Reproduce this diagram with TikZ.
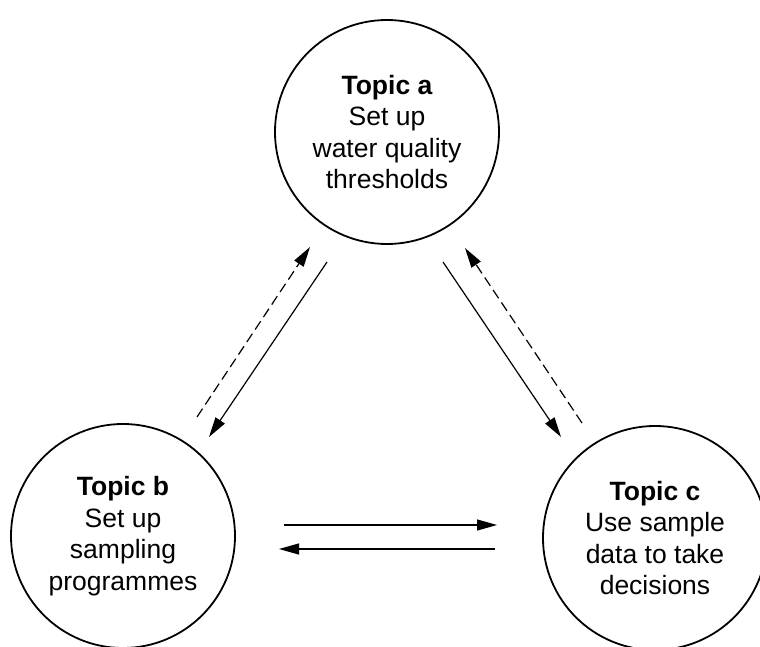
\documentclass[tikz,border=0pt]{standalone}
\usepackage{fontspec}
\setmainfont{Liberation Sans}
\usetikzlibrary{arrows.meta}
\begin{document}
\begin{tikzpicture}[x=1pt,y=1pt,
  topic/.style={circle,draw,line width=1.8pt,minimum size=224pt,inner sep=0pt,align=center,
    font=\fontsize{26.5}{31.5}\selectfont},
  link/.style={line width=1.2pt,-{Triangle[length=20pt,width=11pt]}},
  dlink/.style={link,dash pattern=on 10pt off 5pt}]
\useasboundingbox (0,0) rectangle (760,646);
\node[topic] (a) at (387,514) {\textbf{Topic a}\\Set up\\water quality\\thresholds};
\node[topic] (b) at (123,110) {\textbf{Topic b}\\Set up\\sampling\\programmes};
\node[topic] (c) at (655,108) {\textbf{Topic c}\\Use sample\\data to take\\decisions};
% endpoints of connectors
\coordinate (dL1) at (197,229); \coordinate (dL2) at (310,399);
\coordinate (sL1) at (327,384); \coordinate (sL2) at (209,209);
\coordinate (sR1) at (443,384); \coordinate (sR2) at (561,209);
\coordinate (dR1) at (582,223); \coordinate (dR2) at (465,398);
\coordinate (hT1) at (284,121); \coordinate (hT2) at (497,121);
\coordinate (hB1) at (495,97);  \coordinate (hB2) at (279,97);
\draw[dlink] (dL1) -- (dL2);
\draw[link] (sL1) -- (sL2);
\draw[link] (sR1) -- (sR2);
\draw[dlink] (dR1) -- (dR2);
\draw[link] (hT1) -- (hT2);
\draw[link] (hB1) -- (hB2);
\end{tikzpicture}
\end{document}
